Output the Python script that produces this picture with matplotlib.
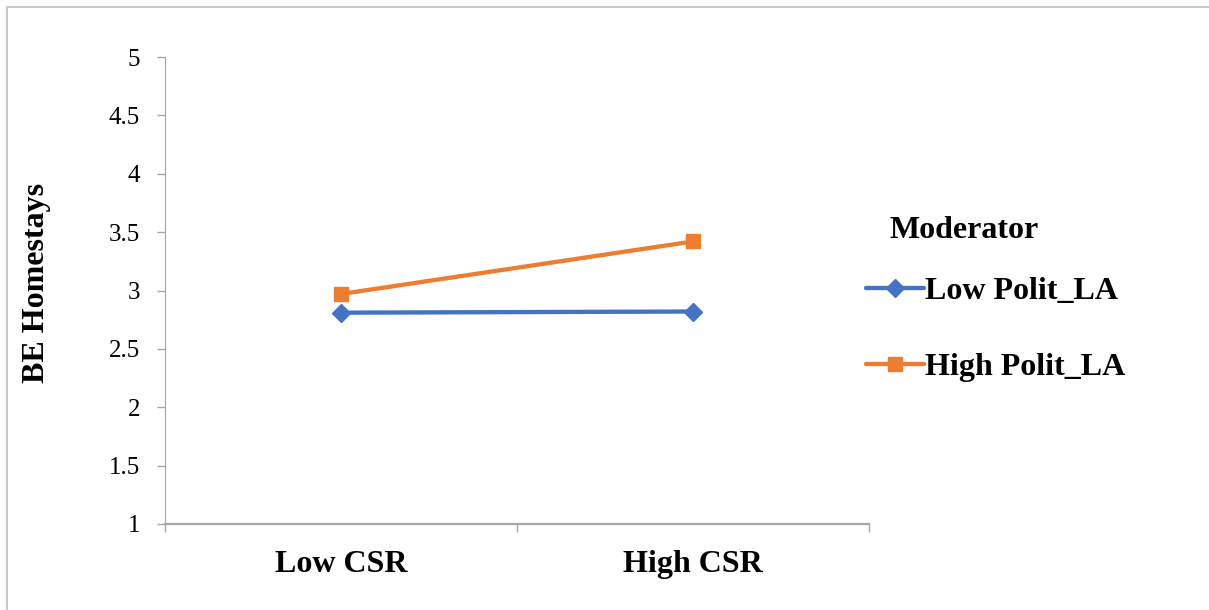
import matplotlib.pyplot as plt
from matplotlib.patches import Rectangle

categories = ["Low CSR", "High CSR"]
series_names = ["Low Polit_LA", "High Polit_LA"]
low_polit = [2.81, 2.82]
high_polit = [2.97, 3.42]
y_ticks = [1, 1.5, 2, 2.5, 3, 3.5, 4, 4.5, 5]
y_labels = ["1", "1.5", "2", "2.5", "3", "3.5", "4", "4.5", "5"]

plt.rcParams["font.family"] = ["Liberation Serif", "DejaVu Serif"]

W, H = 1209, 610
fig = plt.figure(figsize=(W / 100, H / 100), dpi=100)
ax = fig.add_axes([165 / W, 1 - 524 / H, 704 / W, 467 / H])

axis_col = "#A6A6A6"
x = list(range(len(categories)))
ax.plot(x, low_polit, color="#4472C4", lw=3.1, marker="D", ms=9.5,
        label=series_names[0], solid_capstyle="round")
ax.plot(x, high_polit, color="#ED7D31", lw=3.1, marker="s", ms=10.5,
        label=series_names[1], solid_capstyle="round")

ax.set_xlim(-0.5, len(categories) - 0.5)
ax.set_ylim(1, 5)
ax.set_yticks(y_ticks)
ax.set_yticklabels(y_labels, fontsize=18)
ax.set_xticks([-0.5, 0.5, 1.5])
ax.set_xticklabels([])
ax.set_xticks(x, minor=True)
ax.set_xticklabels(categories, minor=True, fontsize=23, fontweight="bold")
ax.tick_params(axis="x", which="minor", length=0, pad=19)
ax.tick_params(axis="x", which="major", length=6, color=axis_col, width=1)
ax.tick_params(axis="y", length=6, color=axis_col, width=1, pad=12)

for side in ["top", "right"]:
    ax.spines[side].set_visible(False)
ax.spines["left"].set_color(axis_col)
ax.spines["bottom"].set_color(axis_col)
ax.spines["bottom"].set_linewidth(1.6)

fig.text(37 / W, 1 - 283 / H, "BE Homestays", rotation=90, fontsize=23,
         fontweight="bold", ha="center", va="center")

fig.text(890 / W, 1 - 230 / H, "Moderator", fontsize=23, fontweight="bold",
         ha="left", va="center")
leg = fig.legend(loc="upper left", bbox_to_anchor=(866 / W, 1 - 277 / H),
                 frameon=False, prop={"size": 23, "weight": "bold"},
                 handlelength=1.8, handletextpad=0.05, labelspacing=1.45,
                 borderpad=0, borderaxespad=0)

fig.patches.append(Rectangle((7 / W, -0.1), 1.2, 1 - 7 / H + 0.1,
                             transform=fig.transFigure, fill=False,
                             edgecolor="#BFBFBF", lw=1.2))

fig.savefig("out.png", dpi=100)
